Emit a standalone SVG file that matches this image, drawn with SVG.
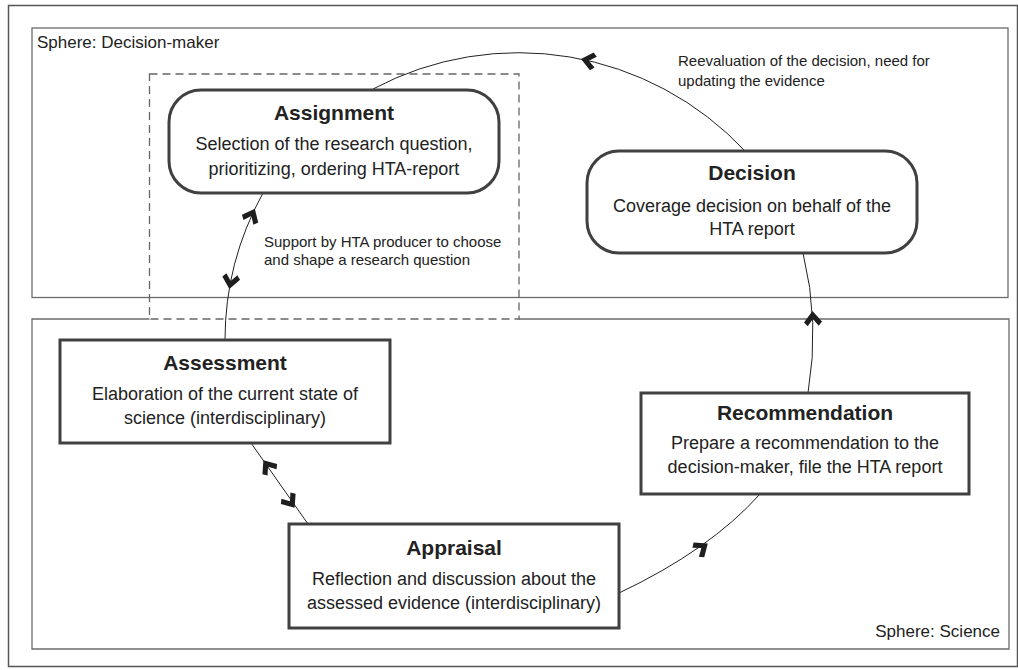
<svg xmlns="http://www.w3.org/2000/svg" xmlns:xlink="http://www.w3.org/1999/xlink" width="1018" height="670" viewBox="0 0 1018 670">
  <style>
    .frame { fill: none; stroke: #555; stroke-width: 1.5; }
    .sphere { fill: none; stroke: #6b6b6b; stroke-width: 1.3; }
    .dash { fill: none; stroke: #666; stroke-width: 1.3; stroke-dasharray: 8 5; }
    .node { fill: #fff; stroke: #404040; stroke-width: 3; }
    .conn { fill: none; stroke: #222; stroke-width: 1; }
    .ah { fill: #1e1e1e; }
    text { font-family: "Liberation Sans", Arial, sans-serif; fill: #222; }
    .title { font-size: 21px; font-weight: bold; text-anchor: middle; }
    .body { font-size: 18px; text-anchor: middle; }
    .lbl { font-size: 15px; }
    .sph { font-size: 17px; }
  </style>
  <defs>
    <path id="ah" d="M1,0 L-10,-9 L-14,-5.5 L-7,0 L-14,5.5 L-10,9 Z"/>
  </defs>
  <rect width="1018" height="670" fill="#fff"/>

  <rect class="frame" x="8.5" y="5.5" width="1009" height="661"/>

  <g id="sphere-decision-maker">
    <rect class="sphere" x="32" y="28" width="976" height="269.5"/>
    <text class="sph" x="37" y="48">Sphere: Decision-maker</text>
  </g>
  <g id="sphere-science">
    <path class="sphere" d="M149.5,319 H32 V649 H1009 V319 H519"/>
    <text class="sph" x="1000" y="637" text-anchor="end">Sphere: Science</text>
  </g>
  <g id="assignment-zone">
    <rect class="dash" x="149.5" y="74" width="369.5" height="245"/>
  </g>

  <g id="connectors">
    <path class="conn" d="M745,151 A310,310 0 0 0 373,89"/>
    <use href="#ah" class="ah" transform="translate(582,59.3) rotate(191.8)"/>

    <path class="conn" d="M263,193 Q225,262 225,340"/>
    <use href="#ah" class="ah" transform="translate(254.4,209.7) rotate(-64.5)"/>
    <use href="#ah" class="ah" transform="translate(229.5,288) rotate(99.8)"/>

    <path class="conn" d="M251,443 L308,524"/>
    <use href="#ah" class="ah" transform="translate(264,461) rotate(-125.1)"/>
    <use href="#ah" class="ah" transform="translate(294,507) rotate(54.9)"/>

    <path class="conn" d="M619,593 Q710,550 760,494"/>
    <use href="#ah" class="ah" transform="translate(707,544) rotate(-36)"/>

    <path class="conn" d="M808,393 Q820,322 803,253"/>
    <use href="#ah" class="ah" transform="translate(812.5,312) rotate(-93)"/>

    <text class="lbl" x="678" y="66">Reevaluation of the decision, need for</text>
    <text class="lbl" x="678" y="86">updating the evidence</text>
    <text class="lbl" x="264" y="247">Support by HTA producer to choose</text>
    <text class="lbl" x="264" y="265">and shape a research question</text>
  </g>

  <g id="assignment">
    <rect class="node" x="169" y="90" width="330" height="103" rx="32" ry="32"/>
    <text class="title" x="334" y="120">Assignment</text>
    <text class="body" x="334" y="150">Selection of the research question,</text>
    <text class="body" x="334" y="174.5">prioritizing, ordering HTA-report</text>
  </g>

  <g id="decision">
    <rect class="node" x="587" y="151" width="330" height="102" rx="32" ry="32"/>
    <text class="title" x="752" y="180">Decision</text>
    <text class="body" x="752" y="212">Coverage decision on behalf of the</text>
    <text class="body" x="752" y="235">HTA report</text>
  </g>

  <g id="assessment">
    <rect class="node" x="60" y="340" width="330" height="103"/>
    <text class="title" x="225" y="370">Assessment</text>
    <text class="body" x="225" y="400">Elaboration of the current state of</text>
    <text class="body" x="225" y="424">science (interdisciplinary)</text>
  </g>

  <g id="recommendation">
    <rect class="node" x="641" y="393" width="328" height="101"/>
    <text class="title" x="805" y="420">Recommendation</text>
    <text class="body" x="805" y="449">Prepare a recommendation to the</text>
    <text class="body" x="805" y="473">decision-maker, file the HTA report</text>
  </g>

  <g id="appraisal">
    <rect class="node" x="289" y="524" width="330" height="104"/>
    <text class="title" x="454" y="555">Appraisal</text>
    <text class="body" x="454" y="585">Reflection and discussion about the</text>
    <text class="body" x="454" y="609">assessed evidence (interdisciplinary)</text>
  </g>
</svg>
